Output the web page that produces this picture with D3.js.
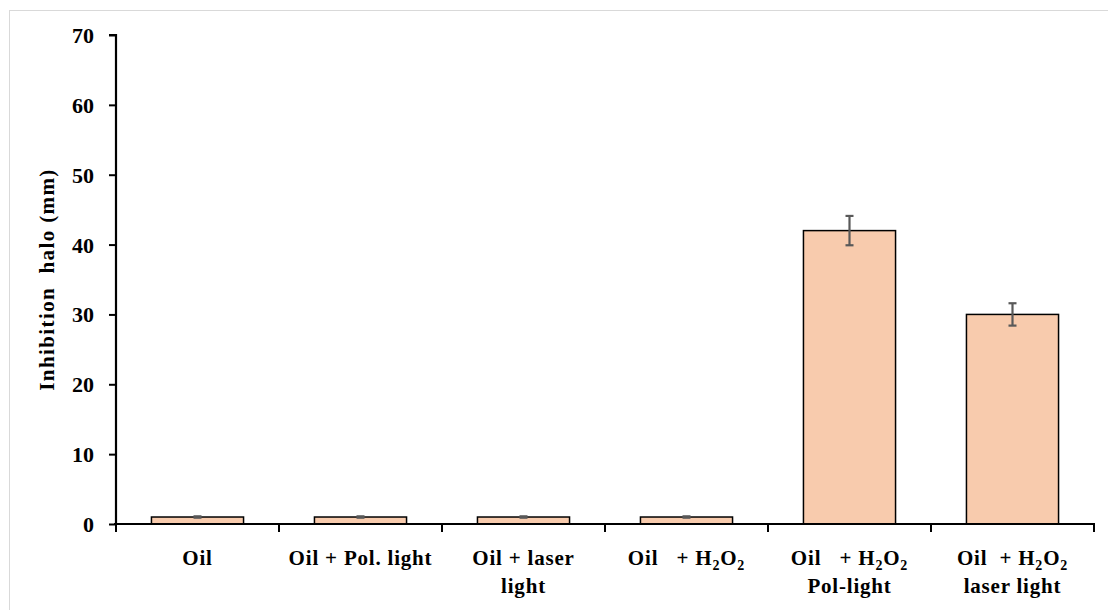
<!DOCTYPE html>
<html>
<head>
<meta charset="utf-8">
<script src="https://cdn.jsdelivr.net/npm/d3@7"></script>
<style>
  body { margin: 0; background: #fff; }
  text { font-family: "Liberation Serif", "DejaVu Serif", serif; font-weight: bold; fill: #000; }
</style>
</head>
<body>
<script>
document.addEventListener("DOMContentLoaded", () => {

  // data
  const categories = ["Oil", "Oil + Pol. light", "Oil + laser light", "Oil + H2O2", "Oil + H2O2 Pol-light", "Oil + H2O2 laser light"];
  const values = [1, 1, 1, 1, 42, 30];
  const errors = [0.1, 0.1, 0.1, 0.1, 2.1, 1.6];
  const yTicks = [0, 10, 20, 30, 40, 50, 60, 70];

  // label lines, "H2O2" pieces get subscripts
  const labelLines = [
    [["Oil"]],
    [["Oil + Pol. light"]],
    [["Oil + laser"], ["light"]],
    [["Oil   + H", "2", "O", "2"]],
    [["Oil   + H", "2", "O", "2"], ["Pol-light"]],
    [["Oil  + H", "2", "O", "2"], ["laser light"]]
  ];

  const w = 1108;
  const h = 610;
  const left = 116, right = 1094, top = 35, bottom = 524;

  const svg = d3.select("body")
  .append("svg")
  .attr("width", w)
  .attr("height", h);

  // light frame
  svg.append("rect")
  .attr("x", 9.5)
  .attr("y", 10.5)
  .attr("width", 1120)
  .attr("height", 620)
  .attr("fill", "none")
  .attr("stroke", "#d9d9d9");

  const x = d3.scaleBand()
  .domain(categories)
  .range([left, right])
  .padding(0);

  const y = d3.scaleLinear()
  .domain([0, 70])
  .range([bottom, top]);

  const barW = x.bandwidth() * 0.565;

  // bars
  svg.selectAll("rect.bar")
  .data(values)
  .enter()
  .append("rect")
  .attr("class", "bar")
  .attr("x", (d, i) => x(categories[i]) + (x.bandwidth() - barW) / 2)
  .attr("y", (d) => y(d))
  .attr("width", barW)
  .attr("height", (d) => y(0) - y(d))
  .attr("fill", "#f8cbad")
  .attr("stroke", "#000")
  .attr("stroke-width", 1.5);

  // error bars
  const eb = svg.append("g")
  .attr("stroke", "#595959")
  .attr("stroke-width", 2.2);

  values.forEach((d, i) => {
    const cx = x(categories[i]) + x.bandwidth() / 2;
    const e = errors[i];
    eb.append("line")
    .attr("x1", cx).attr("x2", cx)
    .attr("y1", y(d + e)).attr("y2", y(d - e));
    [d + e, d - e].forEach((v) => {
      eb.append("line")
      .attr("x1", cx - 4).attr("x2", cx + 4)
      .attr("y1", y(v)).attr("y2", y(v));
    });
  });

  // y axis
  const yAxis = svg.append("g")
  .attr("transform", `translate(${left},0)`)
  .call(d3.axisLeft(y).tickValues(yTicks).tickSize(7).tickPadding(15));
  yAxis.select(".domain").attr("stroke", "#000").attr("stroke-width", 2.2)
  .attr("d", `M-7,${top}H0V${bottom}`);
  yAxis.selectAll(".tick line").attr("stroke", "#000").attr("stroke-width", 2);
  yAxis.selectAll(".tick text")
  .style("font-family", "'Liberation Serif', serif")
  .style("font-weight", "bold")
  .style("font-size", "22px")
  .attr("dy", "0.34em");

  // x axis
  const xAxisG = svg.append("g");
  xAxisG.append("line")
  .attr("x1", left - 2).attr("x2", right + 1)
  .attr("y1", bottom).attr("y2", bottom)
  .attr("stroke", "#000").attr("stroke-width", 2.2);
  const bounds = categories.map((c) => x(c)).concat([right]);
  xAxisG.selectAll("line.tk")
  .data(bounds)
  .enter()
  .append("line")
  .attr("class", "tk")
  .attr("x1", (d) => d).attr("x2", (d) => d)
  .attr("y1", bottom).attr("y2", bottom + 8)
  .attr("stroke", "#000").attr("stroke-width", 2);

  // x labels
  categories.forEach((c, i) => {
    const cx = x(c) + x.bandwidth() / 2;
    labelLines[i].forEach((parts, j) => {
      const t = svg.append("text")
      .attr("x", cx)
      .attr("y", 565 + j * 28)
      .attr("text-anchor", "middle")
      .style("font-size", "21px")
      .style("letter-spacing", "0.8px")
      .style("white-space", "pre");
      parts.forEach((p, k) => {
        const sub = k % 2 === 1;
        t.append("tspan")
        .attr("dy", k === 0 ? 0 : (sub ? 5 : -5))
        .style("font-size", sub ? "14px" : "21px")
        .text(p);
      });
    });
  });

  // y title
  svg.append("text")
  .attr("transform", `translate(54,${(top + bottom) / 2 + 0}) rotate(-90)`)
  .attr("text-anchor", "middle")
  .style("font-size", "21px")
  .style("letter-spacing", "1.4px")
  .style("white-space", "pre")
  .text("Inhibition  halo (mm)");

});
</script>
</body>
</html>
